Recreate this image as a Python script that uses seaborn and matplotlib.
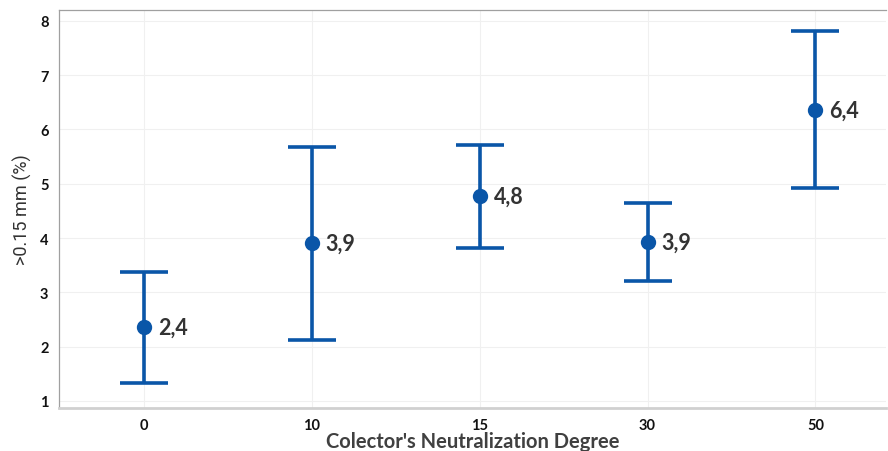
import matplotlib
matplotlib.use("Agg")
import matplotlib.pyplot as plt
import seaborn as sns
import pandas as pd

degrees = ["0", "10", "15", "30", "50"]
means = [2.36, 3.91, 4.78, 3.93, 6.36]
upper = [3.37, 5.67, 5.72, 4.65, 7.81]
lower = [1.34, 2.13, 3.82, 3.21, 4.92]

blue = "#0A56A8"

sns.set_theme(style="white")
plt.rcParams["font.family"] = ["Lato", "DejaVu Sans"]

df = pd.DataFrame({"degree": degrees, "value": means})

fig = plt.figure(figsize=(8.88, 4.52), dpi=100)
ax = fig.add_axes([0.0664, 0.095, 0.9313, 0.8807])

pos = list(range(len(degrees)))
ax.errorbar(pos, means,
            yerr=[[m - lo for m, lo in zip(means, lower)],
                  [u - m for m, u in zip(means, upper)]],
            fmt="none", ecolor=blue, elinewidth=2.6, capsize=17,
            capthick=2.6, zorder=2)
sns.pointplot(data=df, x="degree", y="value", order=degrees,
              color=blue, linestyle="none", markers="o",
              markersize=9, errorbar=None, ax=ax, zorder=3)

for x, m in zip(pos, means):
    ax.annotate(f"{m:.1f}".replace(".", ","), (x, m), xytext=(10, 0),
                textcoords="offset points", ha="left", va="center",
                fontsize=15.5, fontweight="bold", color="#333333")

ax.set_xlim(-0.506, 4.42)
ax.set_ylim(0.87, 8.2)
ax.set_yticks(range(1, 9))
ax.grid(True, color="#f0f0f0", linewidth=0.8)
ax.set_axisbelow(True)

for s in ["left", "top"]:
    ax.spines[s].set_color("#a0a0a0")
    ax.spines[s].set_linewidth(0.9)
ax.spines["bottom"].set_color("#d0d0d0")
ax.spines["bottom"].set_linewidth(2)
ax.spines["right"].set_visible(False)

ax.tick_params(axis="both", which="both", length=4, color="#b0b0b0",
               labelsize=10.5, labelcolor="#111111")
for lab in ax.get_xticklabels() + ax.get_yticklabels():
    lab.set_fontweight("bold")

ax.set_xlabel("Colector's Neutralization Degree", fontsize=14.5,
              fontweight="bold", color="#404040", labelpad=-1)
ax.set_ylabel(">0.15 mm (%)", fontsize=13, color="#333333",
              family=["Roboto", "DejaVu Sans"], labelpad=6)

fig.savefig("out.png", dpi=100)
